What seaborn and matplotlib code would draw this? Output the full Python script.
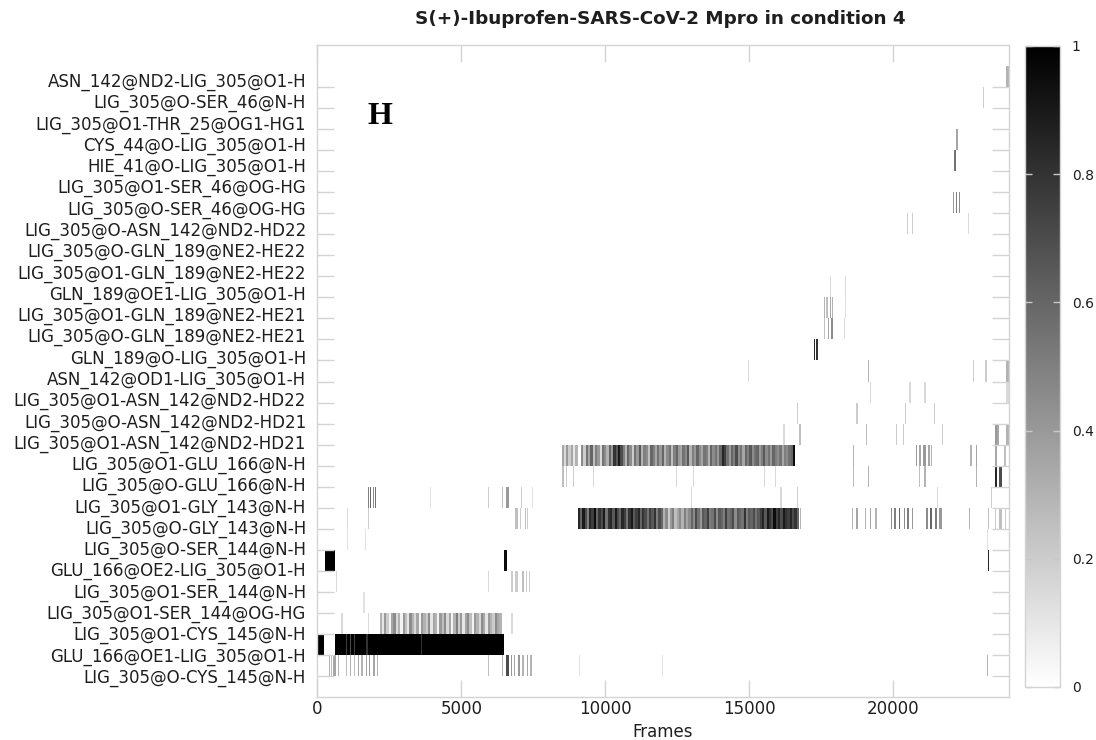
import numpy as np
import pandas as pd
import matplotlib
matplotlib.use("Agg")
import matplotlib.pyplot as plt
import seaborn as sns
from matplotlib.colors import LinearSegmentedColormap
from matplotlib.ticker import FixedLocator

# ---------------- data ----------------
title = "S(+)-Ibuprofen-SARS-CoV-2 Mpro in condition 4"
panel_letter = "H"
x_label = "Frames"
frame_max = 24000
x_ticks = [0, 5000, 10000, 15000, 20000]
cbar_ticks = [0, 0.2, 0.4, 0.6, 0.8, 1]
cbar_tick_labels = ["0", "0.2", "0.4", "0.6", "0.8", "1"]

hbond_labels = [
    "ASN_142@ND2-LIG_305@O1-H",
    "LIG_305@O-SER_46@N-H",
    "LIG_305@O1-THR_25@OG1-HG1",
    "CYS_44@O-LIG_305@O1-H",
    "HIE_41@O-LIG_305@O1-H",
    "LIG_305@O1-SER_46@OG-HG",
    "LIG_305@O-SER_46@OG-HG",
    "LIG_305@O-ASN_142@ND2-HD22",
    "LIG_305@O-GLN_189@NE2-HE22",
    "LIG_305@O1-GLN_189@NE2-HE22",
    "GLN_189@OE1-LIG_305@O1-H",
    "LIG_305@O1-GLN_189@NE2-HE21",
    "LIG_305@O-GLN_189@NE2-HE21",
    "GLN_189@O-LIG_305@O1-H",
    "ASN_142@OD1-LIG_305@O1-H",
    "LIG_305@O1-ASN_142@ND2-HD22",
    "LIG_305@O-ASN_142@ND2-HD21",
    "LIG_305@O1-ASN_142@ND2-HD21",
    "LIG_305@O1-GLU_166@N-H",
    "LIG_305@O-GLU_166@N-H",
    "LIG_305@O1-GLY_143@N-H",
    "LIG_305@O-GLY_143@N-H",
    "LIG_305@O-SER_144@N-H",
    "GLU_166@OE2-LIG_305@O1-H",
    "LIG_305@O1-SER_144@N-H",
    "LIG_305@O1-SER_144@OG-HG",
    "LIG_305@O1-CYS_145@N-H",
    "GLU_166@OE1-LIG_305@O1-H",
    "LIG_305@O-CYS_145@N-H",
]

# occupancy segments per H-bond: (first frame, end frame, mean occupancy)
occ_asn142nd2_o1 = [(23900, 24000, 0.3)]
occ_o_ser46n = [(23100, 23140, 0.2)]
occ_o1_thr25 = []
occ_cys44 = [(22180, 22220, 0.35)]
occ_hie41 = [(22130, 22170, 0.55)]
occ_o1_ser46og = []
occ_o_ser46og = [(22080, 22120, 0.4), (22160, 22200, 0.5), (22280, 22340, 0.45)]
occ_o_asn142hd22 = [(20500, 20530, 0.2), (20620, 20650, 0.2), (22610, 22640, 0.15)]
occ_o_gln189he22 = []
occ_o1_gln189he22 = []
occ_gln189oe1 = [(17790, 17820, 0.15), (18320, 18350, 0.15)]
occ_o1_gln189he21 = [(17600, 17640, 0.3), (17690, 17720, 0.25), (17800, 17830, 0.35),
                     (17870, 17900, 0.3), (18320, 18350, 0.12)]
occ_o_gln189he21 = [(17600, 17640, 0.25), (17720, 17760, 0.35), (17840, 17900, 0.45),
                    (18270, 18300, 0.15)]
occ_gln189o = [(17230, 17290, 0.85), (17330, 17400, 0.8)]
occ_asn142od1 = [(14960, 15000, 0.15), (19130, 19170, 0.3), (22770, 22800, 0.2),
                 (23200, 23240, 0.2), (23920, 24000, 0.3)]
occ_o1_asn142hd22 = [(19180, 19220, 0.15), (20570, 20600, 0.15), (21080, 21110, 0.15),
                     (23920, 24000, 0.15)]
occ_o_asn142hd21 = [(16620, 16660, 0.2), (18700, 18740, 0.2), (20380, 20420, 0.2),
                    (21410, 21450, 0.2)]
occ_o1_asn142hd21 = [(16180, 16220, 0.15), (16740, 16780, 0.25), (19020, 19060, 0.25),
                     (20090, 20130, 0.2), (20330, 20370, 0.2), (21680, 21720, 0.2),
                     (23530, 23580, 0.4), (23620, 23660, 0.35), (23940, 24000, 0.3)]
occ_o1_glu166n = [(8500, 8580, 0.35), (8580, 8660, 0.15), (8660, 8740, 0.4),
                  (8740, 8820, 0.2), (8820, 8900, 0.35), (8900, 8980, 0.1), (8980, 9050, 0.3),
                  (18610, 18650, 0.3), (20780, 20830, 0.4), (20900, 20960, 0.35),
                  (21060, 21100, 0.4), (21200, 21260, 0.35), (21320, 21380, 0.3),
                  (22690, 22740, 0.3), (22880, 22930, 0.35), (23540, 23600, 0.35),
                  (23850, 23900, 0.25)]
band_o1_glu166n_start = 9150
band_o1_glu166n = [0.45, 0.2, 0.55, 0.35, 0.6, 0.25, 0.5, 0.4, 0.15, 0.55, 0.45, 0.3, 0.6, 0.4,
                   0.8, 0.65, 0.9, 0.7,
                   0.5, 0.3, 0.6, 0.45, 0.2, 0.55, 0.4, 0.65, 0.3, 0.5, 0.45, 0.25, 0.6, 0.5,
                   0.35, 0.55, 0.4, 0.6, 0.3, 0.45, 0.55, 0.25, 0.5, 0.6, 0.4, 0.35, 0.55, 0.45,
                   0.65, 0.3, 0.5, 0.4, 0.6, 0.45, 0.35, 0.55, 0.5, 0.3, 0.6, 0.45, 0.55, 0.4,
                   0.6,
                   0.85, 0.75,
                   0.55, 0.4, 0.6, 0.5, 0.7, 0.45, 0.55, 0.35, 0.6, 0.5, 0.65, 0.45, 0.55, 0.6,
                   0.4, 0.5, 0.65, 0.45, 0.55, 0.4, 0.6, 0.5, 0.45, 0.55, 0.35, 0.5, 0.45, 0.55,
                   0.6, 0.95]
occ_o_glu166n = [(8500, 8540, 0.25), (8620, 8660, 0.2), (8890, 8930, 0.2), (9570, 9610, 0.15),
                 (12440, 12480, 0.15), (13030, 13070, 0.15), (15520, 15560, 0.15),
                 (15870, 15910, 0.15), (18610, 18650, 0.25), (19130, 19170, 0.3),
                 (20880, 20920, 0.25), (21080, 21120, 0.3), (22880, 22920, 0.3),
                 (23540, 23620, 0.85), (23660, 23760, 0.7)]
occ_o1_gly143n = [(1740, 1780, 0.5), (1820, 1860, 0.6), (1900, 1940, 0.45), (1980, 2030, 0.55),
                  (3920, 3960, 0.12), (5910, 5950, 0.2), (6390, 6430, 0.25), (6580, 6620, 0.4),
                  (7080, 7120, 0.2), (7430, 7470, 0.12), (12950, 12990, 0.15),
                  (16060, 16100, 0.15), (16630, 16670, 0.2), (21530, 21570, 0.15),
                  (23390, 23430, 0.2)]
occ_o_gly143n = [(1060, 1090, 0.15), (1770, 1800, 0.2), (6900, 6940, 0.25), (7020, 7060, 0.2),
                 (7200, 7240, 0.25), (7290, 7330, 0.2), (16750, 16790, 0.3),
                 (18550, 18600, 0.3), (18700, 18760, 0.35), (19000, 19060, 0.3),
                 (19200, 19250, 0.35), (19380, 19440, 0.3), (19900, 19960, 0.45),
                 (20050, 20100, 0.5), (20200, 20260, 0.6), (20350, 20400, 0.45),
                 (20500, 20560, 0.5), (20620, 20680, 0.4), (21140, 21200, 0.45),
                 (21300, 21360, 0.6), (21450, 21510, 0.5), (21620, 21700, 0.4),
                 (22640, 22680, 0.3), (23290, 23330, 0.25), (23500, 23540, 0.2),
                 (23700, 23740, 0.25), (23880, 23920, 0.2)]
band_o_gly143n_start = 9050
band_o_gly143n = [0.85, 0.6, 0.9, 0.7, 0.5, 0.85, 0.75, 0.95, 0.6, 0.8, 0.7, 0.9, 0.55, 0.8,
                  0.85, 0.65, 0.9, 0.7, 0.6, 0.85, 0.75, 0.55, 0.8, 0.9, 0.65, 0.75, 0.85, 0.6,
                  0.8, 0.7, 0.55, 0.75, 0.65, 0.8, 0.5, 0.7, 0.6,
                  0.3, 0.45, 0.2, 0.4, 0.5, 0.25, 0.35, 0.45, 0.3, 0.5, 0.35, 0.45,
                  0.6, 0.45, 0.7, 0.55, 0.4, 0.65, 0.6, 0.75, 0.5, 0.55, 0.7, 0.45, 0.65, 0.6,
                  0.5, 0.75, 0.55, 0.6, 0.7, 0.45, 0.65, 0.6, 0.55, 0.8, 0.5, 0.65, 0.6, 0.7,
                  0.55, 0.65,
                  0.75, 0.85, 0.65, 0.9, 0.8, 0.7, 0.95, 0.75, 0.85, 0.7, 0.9, 0.8, 0.75, 0.85,
                  0.7, 0.8, 0.6]
occ_o_ser144n = [(1020, 1060, 0.12), (1640, 1680, 0.12), (23230, 23270, 0.12)]
occ_glu166oe2 = [(270, 600, 1.0), (6480, 6600, 0.95), (23280, 23330, 0.85)]
occ_o1_ser144n = [(620, 660, 0.15), (5910, 5950, 0.15), (6740, 6780, 0.2), (6900, 6940, 0.2),
                  (7100, 7140, 0.25), (7240, 7280, 0.2), (7340, 7380, 0.2)]
occ_o1_ser144og = [(1610, 1650, 0.12)]
occ_o1_cys145n = [(850, 890, 0.15), (1740, 1780, 0.15), (6740, 6780, 0.15)]
band_o1_cys145n_start = 2150
band_o1_cys145n = [0.3, 0.1, 0.4, 0.2, 0.05, 0.35, 0.45, 0.15, 0.3, 0.05,
                   0.4, 0.25, 0.1, 0.45, 0.3, 0.15, 0.35, 0.05, 0.4, 0.3,
                   0.2, 0.45, 0.1, 0.35, 0.3, 0.05, 0.4, 0.25, 0.45, 0.15,
                   0.35, 0.05, 0.3, 0.5, 0.2, 0.4, 0.1, 0.35, 0.45, 0.25,
                   0.05, 0.4, 0.3, 0.15, 0.45, 0.35, 0.1, 0.4, 0.3, 0.2,
                   0.45, 0.35, 0.3]
occ_glu166oe1 = [(0, 230, 1.0), (590, 6460, 1.0), (1000, 1040, 0.75), (1130, 1170, 0.7),
                 (1280, 1320, 0.75), (1700, 1740, 0.8), (3600, 3640, 0.8)]
occ_o_cys145n = [(380, 420, 0.3), (460, 500, 0.25), (560, 640, 0.35), (700, 750, 0.3),
                 (990, 1030, 0.25), (1120, 1160, 0.3), (1260, 1300, 0.25), (1400, 1440, 0.35),
                 (1540, 1580, 0.3), (1680, 1720, 0.35), (1800, 1840, 0.4), (1940, 1980, 0.35),
                 (2060, 2100, 0.3), (5910, 5950, 0.25), (6400, 6440, 0.3), (6560, 6640, 0.7),
                 (6700, 6740, 0.4), (6840, 6880, 0.35), (6980, 7020, 0.4), (7120, 7160, 0.3),
                 (7260, 7300, 0.35), (7400, 7440, 0.3), (9070, 9110, 0.12), (11960, 12000, 0.12),
                 (23230, 23270, 0.3)]

band_step = 80
bin_frames = 40


def band_segments(start, values):
    return [(start + i * band_step, start + (i + 1) * band_step, v) for i, v in enumerate(values)]


row_segments = [
    occ_asn142nd2_o1, occ_o_ser46n, occ_o1_thr25, occ_cys44, occ_hie41, occ_o1_ser46og,
    occ_o_ser46og, occ_o_asn142hd22, occ_o_gln189he22, occ_o1_gln189he22, occ_gln189oe1,
    occ_o1_gln189he21, occ_o_gln189he21, occ_gln189o, occ_asn142od1, occ_o1_asn142hd22,
    occ_o_asn142hd21, occ_o1_asn142hd21,
    occ_o1_glu166n + band_segments(band_o1_glu166n_start, band_o1_glu166n),
    occ_o_glu166n,
    occ_o1_gly143n,
    band_segments(band_o_gly143n_start, band_o_gly143n) + occ_o_gly143n,
    occ_o_ser144n, occ_glu166oe2, occ_o1_ser144n, occ_o1_ser144og,
    occ_o1_cys145n + band_segments(band_o1_cys145n_start, band_o1_cys145n),
    occ_glu166oe1, occ_o_cys145n,
]

# matrix: one empty row above and one below the labelled rows
n_rows = len(hbond_labels) + 2
n_cols = frame_max // bin_frames
occupancy = np.zeros((n_rows, n_cols))
for r, segs in enumerate(row_segments, start=1):
    for s, e, v in segs:
        c0 = int(round(s / bin_frames))
        c1 = max(c0 + 1, int(round(e / bin_frames)))
        occupancy[r, c0:c1] = v
frames = np.arange(n_cols) * bin_frames
occ_df = pd.DataFrame(occupancy, index=[""] + hbond_labels + [""], columns=frames)

# ---------------- plot ----------------
W, H = 1096, 740
fig = plt.figure(figsize=(W / 100, H / 100), dpi=100)
ax = fig.add_axes([317.3 / W, 1 - 697 / H, (1008.5 - 317.3) / W, (697 - 45) / H])
cax = fig.add_axes([1025 / W, 1 - 687 / H, 35 / W, (687 - 46) / H])

cmap = LinearSegmentedColormap.from_list("wk", ["#ffffff", "#000000"])
sns.heatmap(occ_df, ax=ax, cbar_ax=cax, cmap=cmap, vmin=0, vmax=1,
            xticklabels=False, yticklabels=False, rasterized=True)

grid_col = "#d4d4d4"
text_col = "#1e1e1e"
for sp in ax.spines.values():
    sp.set_visible(True)
    sp.set_color(grid_col)
    sp.set_linewidth(1.0)

# x ticks
ax.set_xticks([f / bin_frames for f in x_ticks])
ax.set_xticklabels([str(f) for f in x_ticks])
ax.tick_params(axis="x", which="major", direction="in", length=12, width=1,
               color=grid_col, top=True, bottom=True, labelsize=12,
               labelcolor=text_col, pad=2.5)
fig.text((317.3 + 1008.5) / 2 / W, 1 - 732 / H, x_label, ha="center", va="center",
         fontsize=12, color=text_col)

# y: labels (major, no mark) and tick marks at row boundaries (minor)
label_pos = [1.66 + k * (28.33 / 28) for k in range(len(hbond_labels))]
ax.set_yticks(label_pos)
ax.set_yticklabels(hbond_labels)
ax.tick_params(axis="y", which="major", length=0, labelsize=12, labelcolor=text_col, pad=8)
ax.yaxis.set_minor_locator(FixedLocator([k + 2 for k in range(len(hbond_labels))]))
ax.tick_params(axis="y", which="minor", direction="in", length=12, width=1,
               color=grid_col, left=True, right=True)

ax.text((380 - 317.3) / (1008.5 - 317.3), 1 - (116 - 45) / (697 - 45),
        panel_letter, transform=ax.transAxes, ha="center", va="center",
        fontsize=23, fontweight="bold", family="Liberation Serif", color="#000000")

fig.text(660 / W, 1 - 19 / H, title, ha="center", va="center",
         fontsize=13.2, fontweight="bold", color=text_col)

# colorbar
cb = ax.collections[0].colorbar
cb.set_ticks(cbar_ticks)
cb.set_ticklabels(cbar_tick_labels)
cb.outline.set_edgecolor(grid_col)
cb.outline.set_linewidth(1.0)
cax.tick_params(direction="in", length=5, width=1, color="#c8c8c8", left=True, right=True,
                labelsize=10, labelcolor=text_col, pad=8.5)

fig.savefig("out.png", dpi=100, facecolor="white")
